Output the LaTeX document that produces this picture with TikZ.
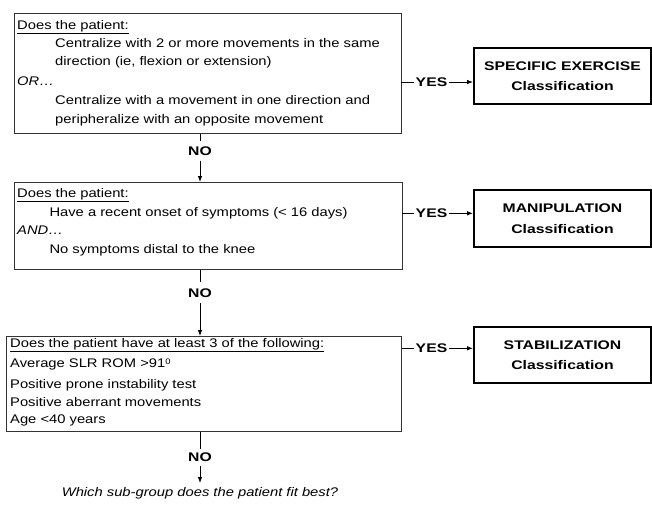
\documentclass[tikz,border=0pt]{standalone}
\usepackage{fontspec}
\setmainfont{Liberation Sans}[
  UprightFeatures={FakeStretch=1.18},
  ItalicFeatures={FakeStretch=1.18},
  BoldFeatures={FakeStretch=1.26},
  BoldItalicFeatures={FakeStretch=1.26}]
\usetikzlibrary{arrows.meta}
\tikzset{
  qbox/.style={draw=black!80, line width=0.9pt, inner sep=0pt, anchor=north west},
  clsbox/.style={draw=black, line width=2pt, inner sep=0pt, anchor=north west,
    minimum width=177pt, align=center,
    font=\bfseries\fontsize{12.5}{20.6}\selectfont},
  txt/.style={anchor=base west, inner sep=0pt, font=\fontsize{12.5}{14}\selectfont},
  lbl/.style={inner xsep=1.5pt, inner ysep=5pt, font=\bfseries\fontsize{12.5}{14}\selectfont},
  conn/.style={line width=0.8pt, black},
  arr/.style={conn, -{Latex[length=6pt,width=4.5pt]}}
}
\begin{document}
\begin{tikzpicture}[x=1pt,y=-1pt]
\useasboundingbox (0,0) rectangle (652,504);

% question boxes
\node[qbox, minimum width=387pt, minimum height=120.5pt] (b1) at (13.5,12.5) {};
\node[qbox, minimum width=388pt, minimum height=87pt] (b2) at (13.5,182) {};
\node[qbox, minimum width=395pt, minimum height=95pt] (b3) at (6,336) {};

% classification boxes
\node[clsbox, minimum height=56pt] (se) at (473,47) {SPECIFIC EXERCISE\\Classification};
\node[clsbox, minimum height=57pt] (ma) at (473,189) {MANIPULATION\\Classification};
\node[clsbox, minimum height=56pt] (st) at (473,326) {STABILIZATION\\Classification};

% box 1 text
\node[txt] (t11) at (17,29.3) {\underline{Does the patient:}};
\node[txt] (t12) at (55,47.6) {Centralize with 2 or more movements in the same};
\node[txt] (t13) at (55,65.3) {direction (ie, flexion or extension)};
\node[txt] (t14) at (17,85.3) {\itshape OR…};
\node[txt] (t15) at (55,104.3) {Centralize with a movement in one direction and};
\node[txt] (t16) at (55,123.3) {peripheralize with an opposite movement};

% box 2 text
\node[txt] (t21) at (17,197) {\underline{Does the patient:}};
\node[txt] (t22) at (49.3,216) {Have a recent onset of symptoms (< 16 days)};
\node[txt] (t23) at (17,234.3) {\itshape AND…};
\node[txt] (t24) at (49.3,253.6) {No symptoms distal to the knee};

% box 3 text
\node[txt] (t31) at (10,347.6) {\underline{Does the patient have at least 3 of the following:}};
\node[txt] (t32) at (10,367.3) {Average SLR ROM >91{\fontsize{8}{9}\selectfont\raisebox{3pt}{0}}};
\node[txt] (t33) at (10,388) {Positive prone instability test};
\node[txt] (t34) at (10,406) {Positive aberrant movements};
\node[txt] (t35) at (10,423.3) {Age <40 years};

% final question
\node[anchor=base, inner sep=0pt, font=\itshape\fontsize{12.5}{14}\selectfont] (fin) at (200,496.5)
  {Which sub-group does the patient fit best?};

% YES labels and connectors
\node[lbl] (y1) at (431.5,82) {YES};
\node[lbl] (y2) at (431.5,213.3) {YES};
\node[lbl] (y3) at (431.5,348.3) {YES};
\draw[conn] (y1.west -| b1.east) -- (y1.west);
\draw[arr] (y1.east) -- (y1.east -| se.west);
\draw[conn] (y2.west -| b2.east) -- (y2.west);
\draw[arr] (y2.east) -- (y2.east -| ma.west);
\draw[conn] (y3.west -| b3.east) -- (y3.west);
\draw[arr] (y3.east) -- (y3.east -| st.west);

% NO labels and connectors
\node[lbl] (n1) at (200,151) {NO};
\node[lbl, inner ysep=6pt] (n2) at (200,292.7) {NO};
\node[lbl, inner ysep=4pt] (n3) at (200,457.5) {NO};
\coordinate (fintop) at (200,483);
\draw[conn] (n1 |- b1.south) -- (n1.north);
\draw[arr] (n1.south) -- (n1 |- b2.north);
\draw[conn] (n2 |- b2.south) -- (n2.north);
\draw[arr] (n2.south) -- (n2 |- b3.north);
\draw[conn] (n3 |- b3.south) -- (n3.north);
\draw[arr] (n3.south) -- (fintop);
\end{tikzpicture}
\end{document}
